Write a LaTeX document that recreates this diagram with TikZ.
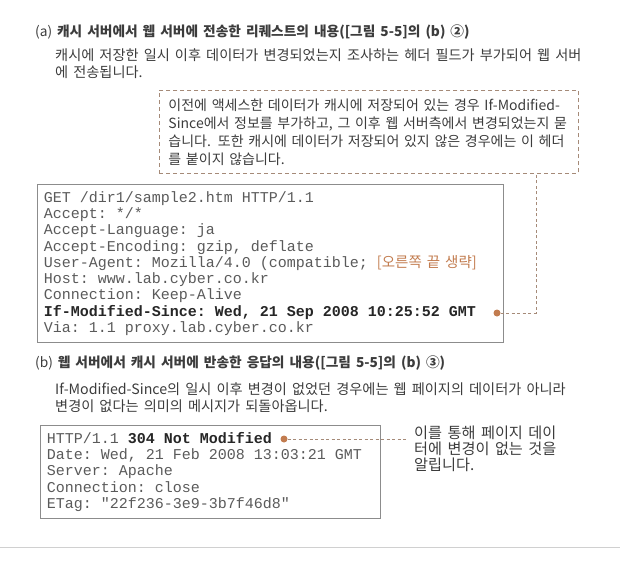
\documentclass[tikz,border=0pt]{standalone}
\usepackage{fontspec}
\setmonofont{Liberation Mono}
\newfontfamily\krfont{Noto Sans CJK KR}[WordSpace=1.6]
\usetikzlibrary{positioning}
\definecolor{inkgray}{HTML}{3C3C3C}
\definecolor{codegray}{HTML}{5A5A5A}
\definecolor{accent}{HTML}{C27C4F}
\definecolor{leadergray}{HTML}{A58A78}
\definecolor{framegray}{HTML}{8C8C8C}
\definecolor{rulegray}{HTML}{D0D0D0}
\DeclareRobustCommand\codefont{\ttfamily\fontsize{15}{16.25}\selectfont}
\DeclareRobustCommand\codebold{\color{black!85}\bfseries}
% one fixed-pitch blank in the listings
\newcommand\msp{\hspace*{0.6em}}
\tikzset{head text/.style={anchor=base west,inner sep=0pt,align=left,text=inkgray,
            font=\krfont\fontsize{13.7}{17}\selectfont},
         body text/.style={anchor=base west,inner sep=0pt,align=left,text=inkgray,
            font=\krfont\fontsize{14.2}{16.8}\selectfont},
         note box/.style={draw=leadergray,dash pattern=on 4pt off 3pt,line width=0.9pt,
            anchor=north west,inner xsep=9pt,inner ysep=0pt,align=left,text=inkgray,
            font=\krfont\fontsize{14}{18}\selectfont},
         code box/.style={draw=framegray,line width=0.8pt,anchor=north west,inner xsep=6.5pt,
            inner ysep=0pt,align=left,text=codegray,font=\codefont},
         pin dot/.style={circle,fill=accent,minimum size=7pt,inner sep=0pt},
         leader/.style={draw=leadergray,line width=0.9pt,dash pattern=on 3pt off 2.5pt},
            }

\begin{document}
\begin{tikzpicture}[x=1pt,y=1pt]
    \useasboundingbox (0,0) rectangle (631,-563);

    % (a) request
    \node[head text] (titlea) at (35,-36.5) {(a) \textbf{캐시 서버에서 웹 서버에 전송한 리퀘스트의 내용([그림 5-5]의 (b) ②)}};
    \node[body text] (texta) at (55,-77.2) {캐시에 저장한 일시 이후 데이터가 변경되었는지 조사하는 헤더 필드가 부가되어 웹 서버\\에 전송됩니다.};

    \node[note box,minimum height=83pt,text width=401pt] (note) at (159,-90)
        {이전에 액세스한 데이터가 캐시에 저장되어 있는 경우 If-Modified-\\
         Since에서 정보를 부가하고, 그 이후 웹 서버측에서 변경되었는지 묻\\
         습니다. 또한 캐시에 데이터가 저장되어 있지 않은 경우에는 이 헤더\\
         를 붙이지 않습니다.};

    \node[code box,minimum height=158pt,text width=453pt] (request) at (37,-184)
        {GET\msp/dir1/sample2.htm\msp HTTP/1.1\\
         Accept:\msp*/*\\
         Accept-Language:\msp ja\\
         Accept-Encoding:\msp gzip,\msp deflate\\
         User-Agent:\msp Mozilla/4.0\msp(compatible;\msp{\krfont\fontsize{14.5}{16}\selectfont\color{accent}[오른쪽 끝 생략]}\\
         Host:\msp www.lab.cyber.co.kr\\
         Connection:\msp Keep-Alive\\
         {\codebold If-Modified-Since:\msp Wed,\msp 21\msp Sep\msp 2008\msp 10:25:52\msp GMT}\\
         Via:\msp 1.1\msp proxy.lab.cyber.co.kr};

    \node[pin dot] (dotreq) at (497,-313) {};
    \coordinate (bend) at (536,-313);
    \draw[leader] (dotreq) -- (bend) -- (bend |- note.south);

    % (b) response
    \node[head text] (titleb) at (35,-367.5) {(b) \textbf{웹 서버에서 캐시 서버에 반송한 응답의 내용([그림 5-5]의 (b) ③)}};
    \node[body text] (textb) at (55,-411.4) {If-Modified-Since의 일시 이후 변경이 없었던 경우에는 웹 페이지의 데이터가 아니라\\변경이 없다는 의미의 메시지가 되돌아옵니다.};

    \node[code box,minimum height=93pt,text width=327pt] (response) at (40,-425)
        {HTTP/1.1\msp{\codebold 304\msp Not\msp Modified}\\
         Date:\msp Wed,\msp 21\msp Feb\msp 2008\msp 13:03:21\msp GMT\\
         Server:\msp Apache\\
         Connection:\msp close\\
         ETag:\msp "22f236-3e9-3b7f46d8"};

    \node[pin dot] (dotres) at (284,-439) {};
    \coordinate (tip) at (408,-439);
    \draw[leader] (dotres) -- (tip);
    \node[body text,font=\krfont\fontsize{15.2}{16}\selectfont] (remark) at (414,-470.8)
        {이를 통해 페이지 데이\\터에 변경이 없는 것을\\알립니다.};

    \draw[rulegray,line width=0.8pt] (0,-547) -- (620,-547);
\end{tikzpicture}
\end{document}
